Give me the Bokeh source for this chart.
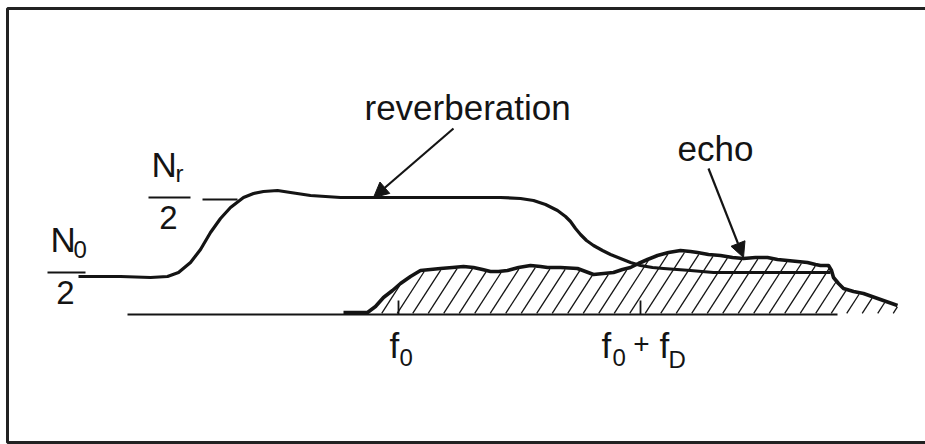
import numpy as np
from bokeh.plotting import figure
from bokeh.models import Range1d, Arrow, NormalHead
from bokeh.core.properties import value
from bokeh.embed import file_html
from bokeh.resources import INLINE

# Sketch coordinates: frequency runs left to right, spectral level grows upward
# (the y range is reversed so that smaller numbers sit higher on the page).

# Reverberation spectrum: noise floor N0/2, plateau Nr/2, then roll-off
reverb_f = [78, 120, 150, 167, 178, 190, 200, 210, 220, 230, 243, 253, 263, 277,
            290, 310, 340, 372, 420, 470, 500, 520, 533, 545, 557, 565, 570, 575,
            580, 586, 593, 602, 610, 620, 630, 640, 652, 663, 690, 713, 760, 800, 830]
reverb_level = [276, 276, 277, 276, 272, 262, 249, 232, 218, 207, 197, 193, 191, 190,
                192, 195, 197, 197, 197, 197, 197, 198, 200, 204, 210, 216, 221, 228,
                234, 240, 245, 250, 254, 258, 262, 265, 267, 268, 270, 272, 272, 272, 272]

# Echo spectrum (Doppler shifted), hatched down to the frequency axis
echo_f = [343, 367, 375, 383, 392, 400, 410, 420, 430, 440, 452, 463, 473, 482,
          490, 498, 507, 518, 530, 540, 547, 560, 577, 585, 593, 603, 613, 622,
          630, 638, 647, 657, 668, 680, 690, 697, 708, 720, 732, 743, 755, 767,
          777, 787, 797, 807, 815, 820, 828, 831, 833, 838, 843, 853, 863, 880, 897]
echo_level = [312, 312, 306, 297, 290, 283, 276, 270, 269, 268, 267, 266, 267, 269,
              271, 271, 270, 267, 265, 266, 267, 267, 268, 271, 274, 273, 272, 269,
              267, 263, 259, 255, 252, 250, 251, 252, 254, 255, 257, 258, 257, 257,
              259, 260, 261, 262, 264, 265, 265, 270, 277, 283, 288, 291, 293, 299, 305]

axis_level = 314
axis_f = [127, 837]
tick_f = [398, 640]
tick_len = 14

INK = "#141414"
FONT = value("Liberation Sans")

p = figure(width=925, height=444, output_backend="svg", toolbar_location=None,
           x_range=Range1d(0, 925), y_range=Range1d(444, 0),
           min_border=0, background_fill_color="white", border_fill_color="white")
p.axis.visible = False
p.grid.visible = False
p.outline_line_color = None

# frame around the sketch (open on the right)
p.line([925, 7, 7, 925], [8, 8, 442, 442], line_color="#222222", line_width=3)

# hatching under the echo: parallel strokes clipped to the echo area
ef = np.array(echo_f, dtype=float)
el = np.array(echo_level, dtype=float)
slope = 1.55
spacing = 15.5
hx0, hx1, hy0, hy1 = [], [], [], []
start = ef[0] - 40
while start < ef[-1]:
    xs = np.linspace(start, start + (axis_level - 240) / slope, 600)
    ys = axis_level - slope * (xs - start)
    top = np.interp(xs, ef, el, left=np.inf, right=np.inf)
    inside = (xs >= ef[0]) & (xs <= ef[-1]) & (ys >= top + 1.5) & (ys <= axis_level - 1)
    idx = np.where(inside)[0]
    if idx.size > 1:
        hx0.append(xs[idx[0]]); hy0.append(ys[idx[0]])
        hx1.append(xs[idx[-1]]); hy1.append(ys[idx[-1]])
    start += spacing
p.segment(hx0, hy0, hx1, hy1, line_color=INK, line_width=1.3)

# frequency axis and the two marker ticks
p.line(axis_f, [axis_level, axis_level], line_color=INK, line_width=2.2)
p.segment(tick_f, [axis_level] * 2, tick_f, [axis_level - tick_len] * 2,
          line_color=INK, line_width=1.8)

# spectra
p.line(echo_f, echo_level, line_color=INK, line_width=3.6, line_join="round")
p.line(reverb_f, reverb_level, line_color=INK, line_width=3.2, line_join="round")

# level markers
p.segment([47, 148, 202], [272, 197, 199], [85, 190, 237], [272, 197, 199],
          line_color=INK, line_width=2.2)

# arrows pointing at the two curves
for (xs, ys, xe, ye) in [(453, 128, 373, 197), (708, 168, 743, 257)]:
    p.add_layout(Arrow(end=NormalHead(size=15, fill_color=INK, line_color=INK),
                       x_start=xs, y_start=ys, x_end=xe, y_end=ye,
                       line_color=INK, line_width=2.2))

# main labels (alphabetic baselines)
big_text = ["reverberation", "echo", "N", "N", "f", "f", "f"]
big_x = [364, 677, 50, 151, 389, 601, 659]
big_y = [107, 148, 239, 164, 345, 345, 345]
p.text(big_x, big_y, text=big_text, text_font=FONT, text_font_size="35px",
       text_color=INK, text_align="left", text_baseline="alphabetic")

# denominators of the level fractions
den_text = ["2", "2"]
den_x = [65, 168]
den_y = [292, 217]
p.text(den_x, den_y, text=den_text, text_font=FONT, text_font_size="33px",
       text_color=INK, text_align="center", text_baseline="alphabetic")

# subscripts
sub_text = ["0", "r", "0", "0", "D"]
sub_x = [73, 175, 399, 612, 668]
sub_y = [249, 173, 357, 357, 359]
p.text(sub_x, sub_y, text=sub_text, text_font=FONT, text_font_size="24px",
       text_color=INK, text_align="left", text_baseline="alphabetic")

# plus sign between f0 and fD
p.text([641], [343], text=["+"], text_font=FONT, text_font_size="28px",
       text_color=INK, text_align="center", text_baseline="alphabetic")

open("out.html", "w").write(file_html(p, INLINE))
